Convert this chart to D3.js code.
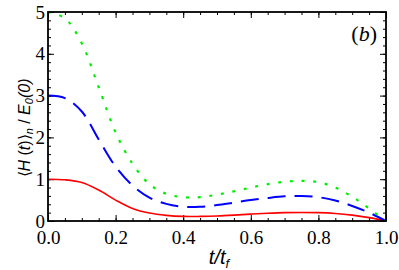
<!DOCTYPE html>
<html>
<head>
<meta charset="utf-8">
<script src="https://cdn.jsdelivr.net/npm/d3@7"></script>
<style>
  body { margin: 0; background: #fff; }
  svg { display: block; }
  .tick text { font-family: "Liberation Serif", "Times New Roman", serif !important; }
</style>
</head>
<body>
<svg width="399" height="270"></svg>
<script>
// t / t_f sample points
const tVals = [0, 0.05, 0.1, 0.15, 0.2, 0.25, 0.3, 0.35, 0.4, 0.45, 0.5,
               0.55, 0.6, 0.65, 0.7, 0.75, 0.8, 0.85, 0.9, 0.95, 1.0];
// n = 0 (red solid)
const redVals = [1.0, 0.985, 0.92, 0.74, 0.5, 0.3, 0.19, 0.135, 0.11, 0.11, 0.12,
                 0.14, 0.165, 0.185, 0.2, 0.205, 0.2, 0.18, 0.14, 0.08, 0];
// n = 1 (blue dashed)
const blueVals = [3.0, 2.94, 2.62, 1.95, 1.3, 0.85, 0.56, 0.41, 0.34, 0.34, 0.38,
                  0.44, 0.5, 0.55, 0.59, 0.6, 0.57, 0.49, 0.36, 0.2, 0];
// n = 2 (green dotted)
const greenVals = [5.0, 4.85, 4.25, 3.2, 2.12, 1.37, 0.88, 0.65, 0.57, 0.57, 0.63,
                   0.71, 0.8, 0.88, 0.94, 0.96, 0.93, 0.8, 0.58, 0.3, 0];

const xTicks = [0, 0.2, 0.4, 0.6, 0.8, 1.0];
const yTicks = [0, 1, 2, 3, 4, 5];

const margin = {top: 12, right: 13, bottom: 49, left: 48};
const svg = d3.select("svg");
const width = 399 - margin.left - margin.right;
const height = 270 - margin.top - margin.bottom;

const x = d3.scaleLinear().domain([0, 1]).range([0, width]);
const y = d3.scaleLinear().domain([0, 5]).range([height, 0]);

const plot = svg.append("g")
  .attr("transform", "translate(" + margin.left + "," + margin.top + ")");

// minor ticks
const xMinor = d3.range(0, 1.0001, 0.05);
const yMinor = d3.range(0, 5.0001, 0.2);

function styleAxis(g) {
  g.attr("font-family", "Liberation Serif").attr("font-size", 19);
  g.select(".domain").remove();
  g.selectAll(".tick line").attr("stroke", "#000").attr("stroke-width", 1);
  g.selectAll(".tick text").attr("fill", "#000");
}

// bottom
plot.append("g").attr("transform", "translate(0," + height + ")")
  .call(d3.axisBottom(x).tickValues(xMinor).tickSize(-3).tickFormat(""))
  .call(styleAxis);
plot.append("g").attr("transform", "translate(0," + height + ")")
  .call(d3.axisBottom(x).tickValues(xTicks).tickSizeInner(-6).tickSizeOuter(0)
        .tickPadding(10).tickFormat(d3.format(".1f")))
  .call(styleAxis);
// top
plot.append("g")
  .call(d3.axisTop(x).tickValues(xMinor).tickSize(-3).tickFormat(""))
  .call(styleAxis);
plot.append("g")
  .call(d3.axisTop(x).tickValues(xTicks).tickSize(-6).tickFormat(""))
  .call(styleAxis);
// left
plot.append("g")
  .call(d3.axisLeft(y).tickValues(yMinor).tickSize(-3).tickFormat(""))
  .call(styleAxis);
plot.append("g")
  .call(d3.axisLeft(y).tickValues(yTicks).tickSizeInner(-6).tickSizeOuter(0)
        .tickPadding(3).tickFormat(d3.format("d")))
  .call(styleAxis);
// right
plot.append("g").attr("transform", "translate(" + width + ",0)")
  .call(d3.axisRight(y).tickValues(yMinor).tickSize(-3).tickFormat(""))
  .call(styleAxis);
plot.append("g").attr("transform", "translate(" + width + ",0)")
  .call(d3.axisRight(y).tickValues(yTicks).tickSize(-6).tickFormat(""))
  .call(styleAxis);

// curves
const series = [
  {vals: redVals, color: "#ff0000", width: 1.6, dash: null},
  {vals: blueVals, color: "#0000ff", width: 2, dash: "18,9"},
  {vals: greenVals, color: "#00ee00", width: 2.2, dash: "3,8.7"}
];

const line = d3.line()
  .x(d => x(d[0]))
  .y(d => y(d[1]))
  .curve(d3.curveCatmullRom.alpha(0.5));

plot.selectAll("path.curve")
  .data(series)
  .enter().append("path")
  .attr("class", "curve")
  .attr("fill", "none")
  .attr("stroke", d => d.color)
  .attr("stroke-width", d => d.width)
  .attr("stroke-dasharray", d => d.dash)
  .attr("d", d => line(tVals.map((t, i) => [t, d.vals[i]])));

// frame
plot.append("rect")
  .attr("width", width).attr("height", height)
  .attr("fill", "none").attr("stroke", "#000").attr("stroke-width", 1.8);

// panel label
const lab = svg.append("text")
  .attr("x", 377).attr("y", 41)
  .attr("text-anchor", "end")
  .style("font-family", "'Liberation Serif', serif")
  .style("font-size", "22px");
lab.append("tspan").text("(");
lab.append("tspan").style("font-style", "italic").text("b");
lab.append("tspan").text(")");

// x label
const xl = svg.append("text")
  .attr("x", 219).attr("y", 264)
  .attr("text-anchor", "middle")
  .style("font-family", "'Liberation Sans', Arial, sans-serif")
  .style("font-style", "italic")
  .style("font-size", "20px");
xl.append("tspan").text("t/t");
xl.append("tspan").attr("dy", 4).style("font-size", "13px").text("f");

// y label
const yl = svg.append("text")
  .attr("transform", "translate(30," + 128 + ") rotate(-90)")
  .attr("text-anchor", "middle")
  .style("font-family", "'Liberation Sans', Arial, sans-serif")
  .style("font-size", "16px");
yl.append("tspan").text("\u27E8");
yl.append("tspan").style("font-style", "italic").text("H");
yl.append("tspan").text(" (");
yl.append("tspan").style("font-style", "italic").text("t");
yl.append("tspan").text(")\u27E9");
yl.append("tspan").attr("dy", 3).style("font-size", "11px").style("font-style", "italic").text("n");
yl.append("tspan").attr("dy", -3).text(" / ");
yl.append("tspan").style("font-style", "italic").text("E");
yl.append("tspan").attr("dy", 3).style("font-size", "11px").style("font-style", "italic").text("0");
yl.append("tspan").attr("dy", -3).style("font-style", "italic").text("(0)");
</script>
</body>
</html>
